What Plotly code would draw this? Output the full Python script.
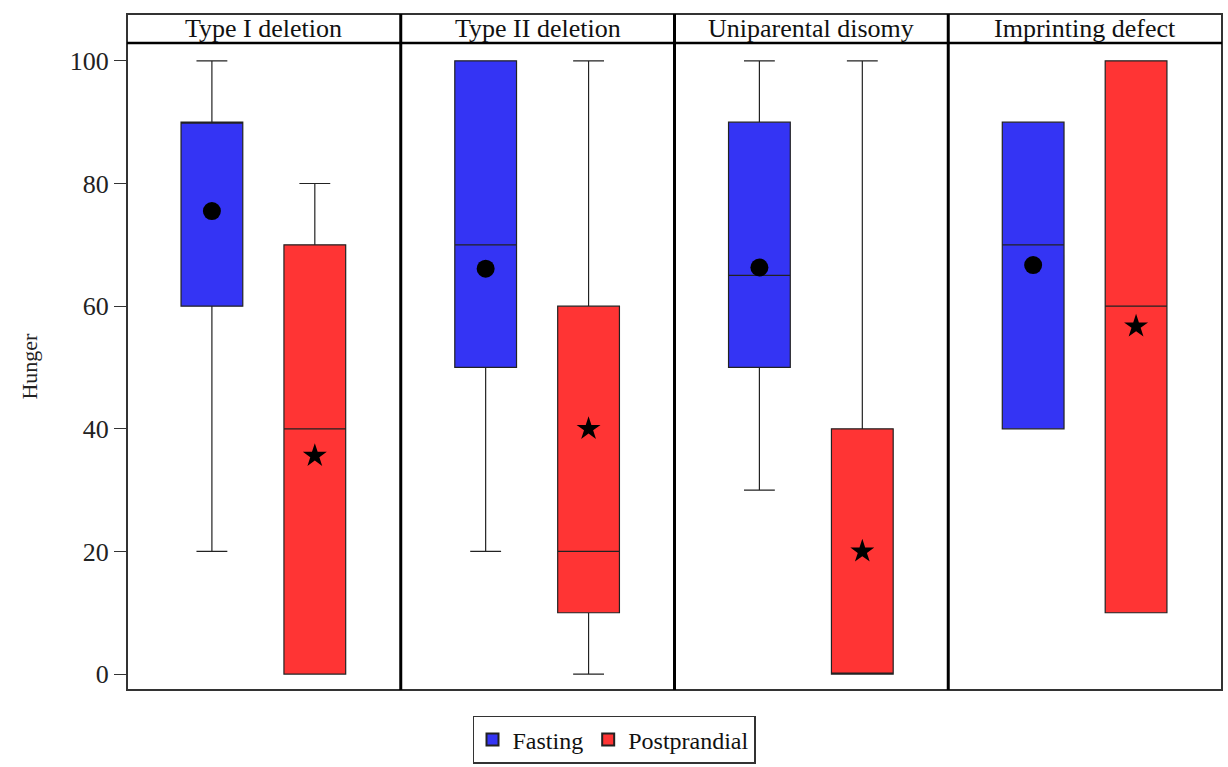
import plotly.graph_objects as go
from plotly.subplots import make_subplots

# Hunger score summaries per genetic subtype
subtypes = ["Type I deletion", "Type II deletion", "Uniparental disomy", "Imprinting defect"]
groups = ["Fasting", "Postprandial"]

fasting_q1 = [60, 50, 50, 40]
fasting_median = [90, 70, 65, 70]
fasting_q3 = [90, 100, 90, 90]
fasting_low = [20, 20, 30, 40]
fasting_high = [100, 100, 100, 90]
fasting_mean = [75.5, 66.1, 66.3, 66.7]

post_q1 = [0, 10, 0, 10]
post_median = [40, 20, 0, 60]
post_q3 = [70, 60, 40, 100]
post_low = [0, 0, 0, 10]
post_high = [80, 100, 100, 100]
post_mean = [35.6, 40.0, 20.0, 56.7]

colors = {"Fasting": "#3434F4", "Postprandial": "#FF3434"}
mean_symbols = {"Fasting": "circle", "Postprandial": "star"}
FONT = "Liberation Serif, Times New Roman, serif"

fig = make_subplots(rows=1, cols=4, shared_yaxes=True, horizontal_spacing=0)

series = {
    "Fasting": (fasting_q1, fasting_median, fasting_q3, fasting_low, fasting_high, fasting_mean),
    "Postprandial": (post_q1, post_median, post_q3, post_low, post_high, post_mean),
}

for i, name in enumerate(subtypes):
    col = i + 1
    for pos, g in enumerate(groups):
        q1, med, q3, lo, hi, mn = series[g]
        fig.add_trace(
            go.Box(
                x=[pos], q1=[q1[i]], median=[med[i]], q3=[q3[i]],
                lowerfence=[lo[i]], upperfence=[hi[i]],
                name=g, legendgroup=g, showlegend=(i == 0),
                fillcolor=colors[g], line=dict(color="#222222", width=1.2),
                width=0.6, whiskerwidth=0.5, boxpoints=False,
                hoverinfo="skip",
            ),
            row=1, col=col,
        )
        fig.add_trace(
            go.Scatter(
                x=[pos], y=[mn[i]], mode="markers", showlegend=False,
                marker=dict(symbol=mean_symbols[g], color="black", size=18,
                            line=dict(width=0)),
                hoverinfo="skip",
            ),
            row=1, col=col,
        )

plot_top = 0.957
for i in range(4):
    ax = "xaxis" if i == 0 else f"xaxis{i + 1}"
    fig.layout[ax].update(range=[-0.825, 1.835], showticklabels=False, ticks="",
                          showgrid=False, zeroline=False, showline=False)

fig.update_yaxes(domain=[0, plot_top], range=[-2.6, 102.9], showgrid=False, zeroline=False,
                 showline=False, tickvals=[0, 20, 40, 60, 80, 100],
                 ticks="outside", ticklen=12, tickwidth=1.3, tickcolor="#333",
                 tickfont=dict(family=FONT, size=26, color="#222"))
fig.update_yaxes(title=dict(text="Hunger", font=dict(family=FONT, size=22, color="#222"),
                            standoff=26), row=1, col=1)
fig.update_yaxes(ticks="", showticklabels=False, row=1, col=2)
fig.update_yaxes(ticks="", showticklabels=False, row=1, col=3)
fig.update_yaxes(ticks="", showticklabels=False, row=1, col=4)

shapes = []
# outer frame
shapes.append(dict(type="rect", xref="paper", yref="paper", x0=0, x1=1, y0=0, y1=1,
                   line=dict(color="#333", width=2)))
# header bottom line
shapes.append(dict(type="line", xref="paper", yref="paper", x0=0, x1=1, y0=plot_top, y1=plot_top,
                   line=dict(color="black", width=2.5)))
# panel separators
for k in range(1, 4):
    shapes.append(dict(type="line", xref="paper", yref="paper", x0=k / 4, x1=k / 4, y0=0, y1=1,
                       line=dict(color="black", width=3)))

annotations = []
for i, name in enumerate(subtypes):
    annotations.append(dict(text=name, xref="paper", yref="paper", x=(i + 0.5) / 4,
                            y=(1 + plot_top) / 2, xanchor="center", yanchor="middle",
                            showarrow=False, font=dict(family=FONT, size=26, color="#111")))

fig.update_layout(
    width=1228, height=767,
    margin=dict(l=127, r=6, t=14, b=77),
    paper_bgcolor="white", plot_bgcolor="white",
    shapes=shapes, annotations=annotations,
    showlegend=True,
    legend=dict(orientation="h", xref="container", yref="container",
                x=0.5, xanchor="center", y=0.004, yanchor="bottom",
                bordercolor="#333", borderwidth=1.5, bgcolor="white",
                font=dict(family=FONT, size=24, color="#111"),
                itemsizing="constant", tracegroupgap=0),
)

fig.write_html("out.html")
